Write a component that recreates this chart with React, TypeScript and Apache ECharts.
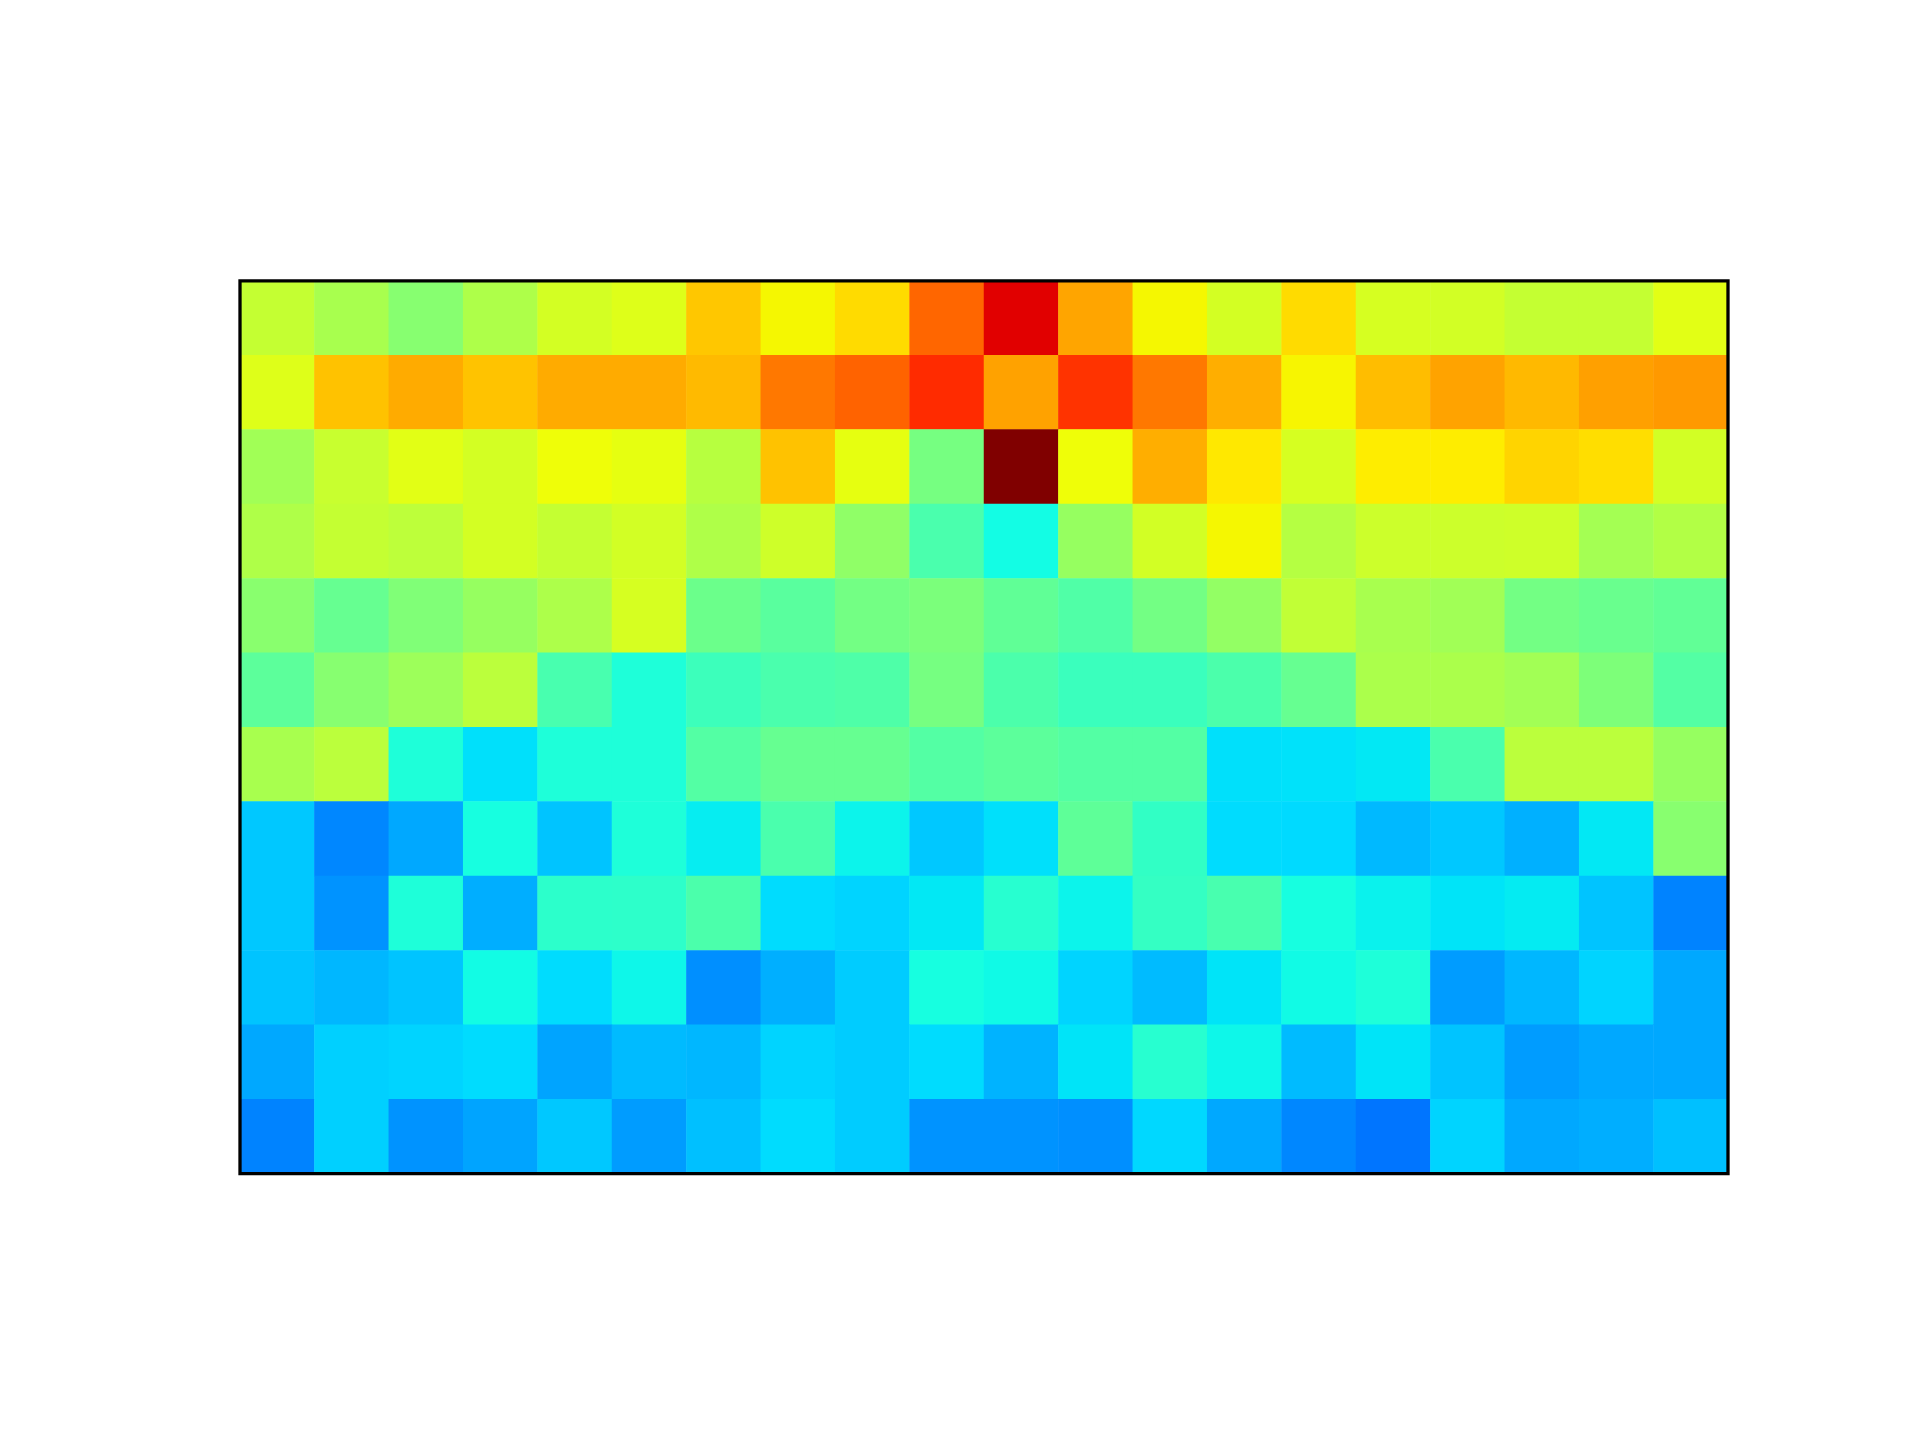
import React, { useEffect, useRef } from "react";
import * as echarts from "echarts";

const columns = Array.from({ length: 20 }, (_, i) => `C${i + 1}`);
const rowLabels = Array.from({ length: 12 }, (_, i) => `R${i + 1}`);

// Rows listed top to bottom, values normalised 0..1
const row1 = [0.589, 0.555, 0.514, 0.561, 0.607, 0.62, 0.699, 0.648, 0.678, 0.802, 0.916, 0.735, 0.648, 0.607, 0.678, 0.61, 0.605, 0.589, 0.589, 0.625];
const row2 = [0.62, 0.705, 0.729, 0.703, 0.729, 0.729, 0.713, 0.783, 0.805, 0.864, 0.738, 0.856, 0.783, 0.726, 0.65, 0.71, 0.737, 0.714, 0.74, 0.748];
const row3 = [0.545, 0.593, 0.625, 0.607, 0.64, 0.63, 0.573, 0.705, 0.63, 0.494, 1.0, 0.64, 0.726, 0.664, 0.61, 0.659, 0.659, 0.686, 0.675, 0.605];
const row4 = [0.562, 0.589, 0.58, 0.607, 0.589, 0.605, 0.562, 0.6, 0.525, 0.44, 0.373, 0.533, 0.605, 0.648, 0.57, 0.598, 0.598, 0.6, 0.549, 0.567];
const row5 = [0.517, 0.474, 0.505, 0.533, 0.56, 0.61, 0.48, 0.458, 0.49, 0.5, 0.467, 0.447, 0.49, 0.529, 0.584, 0.555, 0.545, 0.49, 0.478, 0.468];
const row6 = [0.462, 0.514, 0.54, 0.577, 0.437, 0.387, 0.423, 0.44, 0.445, 0.494, 0.442, 0.42, 0.42, 0.442, 0.474, 0.558, 0.558, 0.547, 0.502, 0.45];
const row7 = [0.555, 0.577, 0.387, 0.345, 0.387, 0.387, 0.45, 0.474, 0.474, 0.45, 0.462, 0.45, 0.45, 0.345, 0.347, 0.353, 0.44, 0.577, 0.577, 0.533];
const row8 = [0.321, 0.258, 0.29, 0.377, 0.317, 0.387, 0.357, 0.44, 0.364, 0.321, 0.345, 0.465, 0.41, 0.341, 0.339, 0.307, 0.321, 0.298, 0.353, 0.515];
const row9 = [0.321, 0.27, 0.387, 0.296, 0.403, 0.405, 0.442, 0.341, 0.333, 0.353, 0.397, 0.364, 0.413, 0.437, 0.377, 0.362, 0.349, 0.355, 0.317, 0.254];
const row10 = [0.317, 0.305, 0.317, 0.372, 0.341, 0.367, 0.266, 0.297, 0.325, 0.377, 0.37, 0.333, 0.309, 0.349, 0.371, 0.387, 0.278, 0.305, 0.333, 0.29];
const row11 = [0.29, 0.329, 0.333, 0.341, 0.286, 0.309, 0.305, 0.333, 0.325, 0.341, 0.301, 0.349, 0.397, 0.367, 0.309, 0.349, 0.317, 0.278, 0.29, 0.29];
const row12 = [0.254, 0.329, 0.27, 0.286, 0.321, 0.278, 0.313, 0.341, 0.325, 0.27, 0.27, 0.266, 0.337, 0.29, 0.258, 0.239, 0.333, 0.29, 0.296, 0.313];

const rows = [row1, row2, row3, row4, row5, row6, row7, row8, row9, row10, row11, row12];

function interp(v: number, pts: number[][]): number {
  for (let i = 1; i < pts.length; i++) {
    if (v <= pts[i][0]) {
      const [x0, y0] = pts[i - 1];
      const [x1, y1] = pts[i];
      return y0 + ((v - x0) / (x1 - x0)) * (y1 - y0);
    }
  }
  return pts[pts.length - 1][1];
}

function jet(v: number): string {
  const r = interp(v, [[0, 0], [0.35, 0], [0.66, 1], [0.89, 1], [1, 0.5]]);
  const g = interp(v, [[0, 0], [0.125, 0], [0.375, 1], [0.64, 1], [0.91, 0], [1, 0]]);
  const b = interp(v, [[0, 0.5], [0.11, 1], [0.34, 1], [0.65, 0], [1, 0]]);
  const h = (x: number) => Math.round(Math.max(0, Math.min(1, x)) * 255).toString(16).padStart(2, "0");
  return `#${h(r)}${h(g)}${h(b)}`;
}

const jetColors = Array.from({ length: 257 }, (_, i) => jet(i / 256));

export default function App() {
  const ref = useRef<HTMLDivElement>(null);
  useEffect(() => {
    document.body.style.margin = "0";
    if (!ref.current) return;
    const chart = echarts.init(ref.current, undefined, { renderer: "svg" });
    const data: number[][] = [];
    rows.forEach((row, y) => row.forEach((v, x) => data.push([x, y, v])));
    const left = 240, top = 280.8, width = 1488, height = 892.8;
    chart.setOption({
      animation: false,
      backgroundColor: "#ffffff",
      grid: { left, top, width, height, show: false },
      xAxis: {
        type: "category",
        data: columns,
        show: false,
      },
      yAxis: {
        type: "category",
        data: rowLabels,
        inverse: true,
        show: false,
      },
      visualMap: {
        type: "continuous",
        min: 0,
        max: 1,
        show: false,
        inRange: { color: jetColors },
      },
      series: [
        {
          type: "heatmap",
          data,
          itemStyle: { borderWidth: 0 },
          emphasis: { disabled: true },
        },
      ],
      graphic: [
        {
          type: "rect",
          z: 100,
          shape: { x: left, y: top, width, height },
          style: { fill: "none", stroke: "#000000", lineWidth: 3.3 },
        },
      ],
    });
    return () => chart.dispose();
  }, []);
  return (
    <div
      ref={ref}
      style={{ width: 1920, height: 1440, position: "absolute", left: 0, top: 0 }}
    />
  );
}
